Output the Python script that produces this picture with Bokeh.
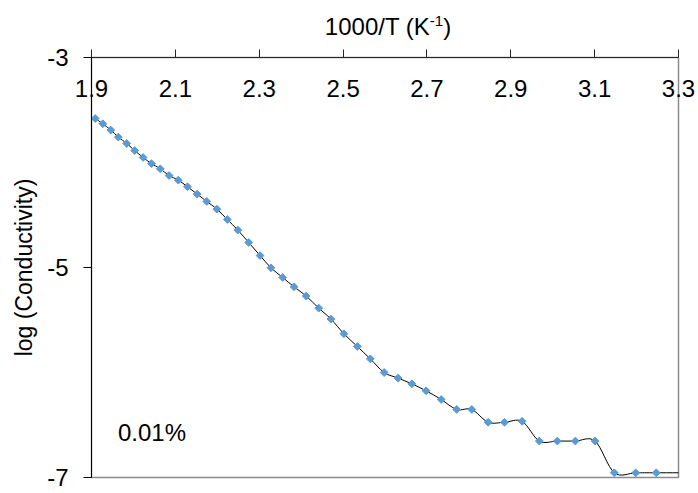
from bokeh.plotting import figure
from bokeh.models import FixedTicker, Label, ColumnDataSource, Div
from bokeh.layouts import column
from bokeh.embed import file_html
from bokeh.resources import INLINE

# ---- data ----
inv_T = [1.909, 1.927, 1.946, 1.964, 1.984, 2.003, 2.023, 2.043, 2.064, 2.085,
         2.107, 2.129, 2.152, 2.175, 2.199, 2.224, 2.249, 2.275, 2.302, 2.328,
         2.356, 2.383, 2.412, 2.442, 2.471, 2.502, 2.534, 2.565, 2.598, 2.631,
         2.664, 2.698, 2.734, 2.771, 2.807, 2.846, 2.885, 2.927, 2.968, 3.011,
         3.054, 3.101, 3.147, 3.198, 3.247, 3.350]
log_cond = [-3.581, -3.631, -3.691, -3.758, -3.819, -3.886, -3.952, -4.010, -4.060, -4.124,
            -4.168, -4.231, -4.301, -4.371, -4.444, -4.543, -4.644, -4.762, -4.886, -5.003,
            -5.095, -5.184, -5.272, -5.387, -5.491, -5.631, -5.752, -5.870, -6.000, -6.053,
            -6.108, -6.174, -6.257, -6.352, -6.352, -6.474, -6.474, -6.465, -6.653, -6.653,
            -6.653, -6.653, -6.955, -6.955, -6.955, -6.955]
x_ticks = [1.9, 2.1, 2.3, 2.5, 2.7, 2.9, 3.1, 3.3]
x_tick_labels = ["1.9", "2.1", "2.3", "2.5", "2.7", "2.9", "3.1", "3.3"]
y_ticks = [-7, -5, -3]
y_tick_labels = ["-7", "-5", "-3"]
x_title_main = "1000/T (K"
x_title_sup = "-1"
x_title_end = ")"
series_label = "0.01%"

FONT = "Liberation Sans"
HEAD_H = 42

# ---- header holding the x-axis title (with a real superscript) ----
title_html = (
    '<div style="padding-top:15px;width:698px;padding-left:78px;box-sizing:border-box;'
    'text-align:center;font-family:\'Liberation Sans\',Arial,sans-serif;font-size:24px;'
    'line-height:24px;color:#000000;white-space:nowrap;margin:0">'
    + x_title_main
    + '<span style="font-size:15px;line-height:0;position:relative;top:-9px">'
    + x_title_sup + '</span>' + x_title_end + '</div>'
)
head = Div(text=title_html, width=698, height=HEAD_H, margin=0)

# ---- main chart ----
p = figure(width=698, height=493 - HEAD_H, x_range=(1.9, 3.3), y_range=(-7, -3),
           x_axis_location="above", toolbar_location=None, output_backend="svg",
           min_border_left=91, min_border_right=20, min_border_top=57 - HEAD_H,
           min_border_bottom=16)
p.background_fill_color = "white"
p.border_fill_color = "white"
p.outline_line_color = "#8c8c8c"
p.outline_line_width = 1.5
p.xgrid.visible = False
p.ygrid.visible = False

xa = p.xaxis[0]
xa.ticker = FixedTicker(ticks=x_ticks)
xa.major_label_overrides = {t: l for t, l in zip(x_ticks, x_tick_labels)}
xa.major_tick_in = 0
xa.major_tick_out = 8
xa.minor_tick_in = 0
xa.minor_tick_out = 0
xa.major_label_standoff = -47
xa.major_label_text_font = FONT
xa.major_label_text_font_size = "24px"
xa.major_label_text_color = "black"
xa.axis_line_color = "#262626"
xa.major_tick_line_color = "#262626"

ya = p.yaxis[0]
ya.ticker = FixedTicker(ticks=y_ticks)
ya.major_label_overrides = {t: l for t, l in zip(y_ticks, y_tick_labels)}
ya.major_tick_in = 0
ya.major_tick_out = 8
ya.minor_tick_in = 0
ya.minor_tick_out = 0
ya.major_label_standoff = 15
ya.major_label_text_font = FONT
ya.major_label_text_font_size = "24px"
ya.major_label_text_color = "black"
ya.axis_line_color = "black"
ya.major_tick_line_color = "black"
ya.axis_label = "log (Conductivity)"
ya.axis_label_text_font = FONT
ya.axis_label_text_font_size = "23px"
ya.axis_label_text_font_style = "normal"
ya.axis_label_text_color = "black"
ya.axis_label_standoff = 7

# smoothed line (Bezier segments built from the data points)
n = len(inv_T)
x0, y0, x1, y1, cx0, cy0, cx1, cy1 = [], [], [], [], [], [], [], []
for i in range(n - 1):
    a = max(i - 1, 0)
    d = min(i + 2, n - 1)
    x0.append(inv_T[i]); y0.append(log_cond[i])
    x1.append(inv_T[i + 1]); y1.append(log_cond[i + 1])
    cx0.append(inv_T[i] + (inv_T[i + 1] - inv_T[a]) / 6.0)
    cy0.append(log_cond[i] + (log_cond[i + 1] - log_cond[a]) / 6.0)
    cx1.append(inv_T[i + 1] - (inv_T[d] - inv_T[i]) / 6.0)
    cy1.append(log_cond[i + 1] - (log_cond[d] - log_cond[i]) / 6.0)
bz = ColumnDataSource(dict(x0=x0, y0=y0, x1=x1, y1=y1, cx0=cx0, cy0=cy0, cx1=cx1, cy1=cy1))
p.bezier(x0="x0", y0="y0", x1="x1", y1="y1", cx0="cx0", cy0="cy0", cx1="cx1", cy1="cy1",
         source=bz, line_color="black", line_width=1)

src = ColumnDataSource(dict(x=inv_T, y=log_cond))
p.scatter("x", "y", source=src, marker="square", angle=0.7854, size=5.5,
          fill_color="#5B9BD5", line_color="#5B9BD5", line_width=1)

p.add_layout(Label(x=1.963, y=-6.575, text=series_label, text_align="left",
                   text_baseline="alphabetic", text_font=FONT,
                   text_font_size="24px", text_color="black"))

layout = column(head, p, spacing=0)
open("out.html", "w").write(file_html(layout, INLINE))
